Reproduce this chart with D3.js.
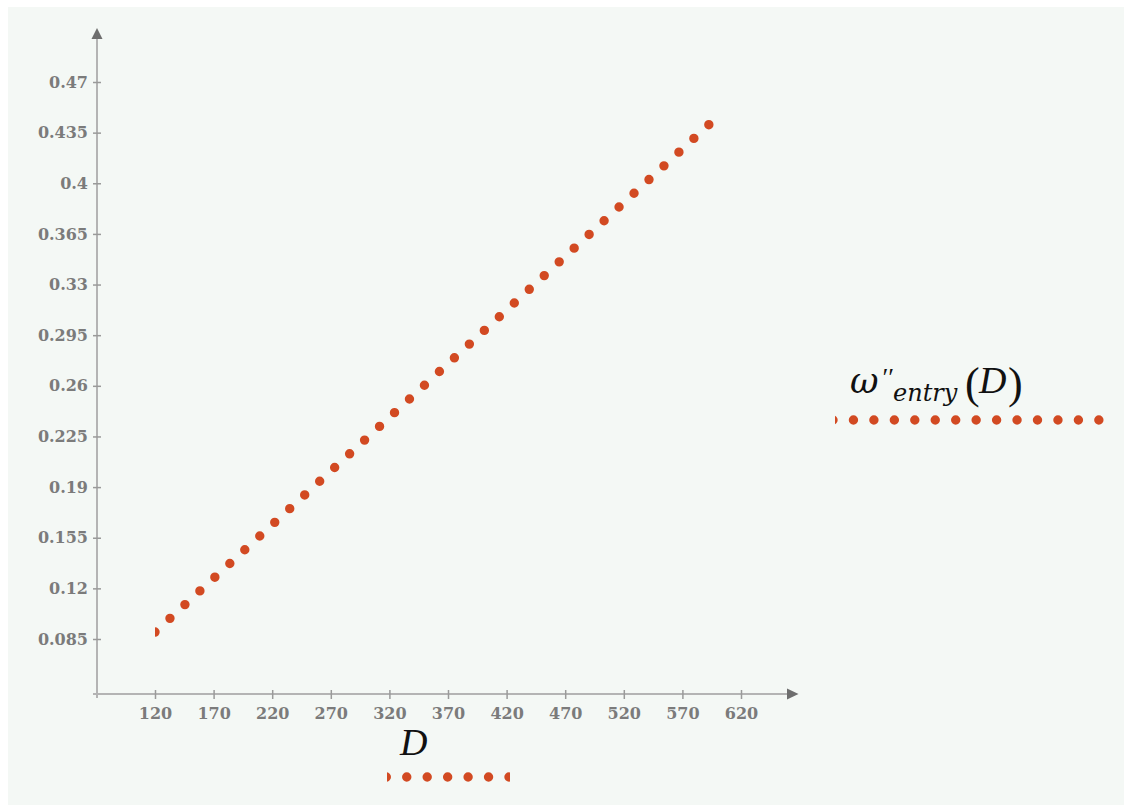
<!DOCTYPE html>
<html>
<head>
<meta charset="utf-8">
<script src="https://cdn.jsdelivr.net/npm/d3@7"></script>
<style>
    body { margin: 0; background: #ffffff; }
    svg { display: block; }
    .tick text { font-family: "DejaVu Serif", serif; font-weight: bold; font-size: 16px; fill: #7b7b7b; }
    .tick line { stroke: #9a9a9a; stroke-width: 1.5; }
</style>
</head>
<body>
<div id="chart"></div>
<script>
// values
const dValues = [120, 200, 280, 360, 440, 520, 595];
const omegaValues = [0.0898, 0.1492, 0.2085, 0.2679, 0.3272, 0.3866, 0.4423];

const xTicks = [120, 170, 220, 270, 320, 370, 420, 470, 520, 570, 620];
const yTicks = [0.085, 0.12, 0.155, 0.19, 0.225, 0.26, 0.295, 0.33, 0.365, 0.4, 0.435, 0.47];
const yTickLabels = ['0.085', '0.12', '0.155', '0.19', '0.225', '0.26', '0.295', '0.33', '0.365', '0.4', '0.435', '0.47'];

const W = 1131, H = 812;
const dotColor = '#d24a22';
const axisColor = '#b4b4b4';
const arrowColor = '#6e6e6e';

const svg = d3.select('#chart').append('svg')
    .attr('width', W)
    .attr('height', H);

// panel background
svg.append('rect')
    .attr('x', 8).attr('y', 7)
    .attr('width', 1116).attr('height', 798)
    .attr('fill', '#f4f8f5');

const x = d3.scaleLinear().domain([120, 620]).range([155, 741]);
const y = d3.scaleLinear().domain([0.085, 0.47]).range([639, 82]);

const originX = 97, originY = 694;

// axis lines with arrows
svg.append('line')
    .attr('x1', 93).attr('x2', 790)
    .attr('y1', originY).attr('y2', originY)
    .attr('stroke', axisColor).attr('stroke-width', 2);
svg.append('line')
    .attr('x1', originX).attr('x2', originX)
    .attr('y1', 36).attr('y2', 698)
    .attr('stroke', axisColor).attr('stroke-width', 2);

svg.append('path')
    .attr('d', `M${originX - 5.5},39 L${originX},28 L${originX + 5.5},39 Z`)
    .attr('fill', arrowColor);
svg.append('path')
    .attr('d', `M787,${originY - 5.5} L798.5,${originY} L787,${originY + 5.5} Z`)
    .attr('fill', arrowColor);

// y axis
const yAxis = svg.append('g')
    .attr('transform', `translate(${originX},0)`)
    .call(d3.axisLeft(y)
        .tickValues(yTicks)
        .tickFormat((d, i) => yTickLabels[i])
        .tickSize(4)
        .tickPadding(5));
yAxis.select('.domain').remove();
yAxis.selectAll('.tick line').attr('x1', 4).attr('x2', -4);
yAxis.selectAll('.tick text').attr('font-family', null).attr('font-size', null);

// x axis
const xAxis = svg.append('g')
    .attr('transform', `translate(0,${originY})`)
    .call(d3.axisBottom(x)
        .tickValues(xTicks)
        .tickFormat(d3.format('d'))
        .tickSize(4)
        .tickPadding(10));
xAxis.select('.domain').remove();
xAxis.selectAll('.tick line').attr('y1', -4).attr('y2', 5);
xAxis.selectAll('.tick text').attr('font-family', null).attr('font-size', null);

// dotted trace
const defs = svg.append('defs');
defs.append('clipPath').attr('id', 'clip-trace')
    .append('rect')
    .attr('x', x(dValues[0])).attr('y', 0)
    .attr('width', 700).attr('height', H);

const line = d3.line()
    .x((d, i) => x(d))
    .y((d, i) => y(omegaValues[i]));

svg.append('path')
    .datum(dValues)
    .attr('clip-path', 'url(#clip-trace)')
    .attr('d', line)
    .attr('fill', 'none')
    .attr('stroke', dotColor)
    .attr('stroke-width', 9.4)
    .attr('stroke-linecap', 'round')
    .attr('stroke-dasharray', '0 20.3');

// legend samples
function dottedSample(id, x0, x1, clipX0, clipX1, yy) {
    defs.append('clipPath').attr('id', id)
        .append('rect')
        .attr('x', clipX0).attr('y', yy - 10)
        .attr('width', clipX1 - clipX0).attr('height', 20);
    svg.append('line')
        .attr('clip-path', `url(#${id})`)
        .attr('x1', x0).attr('x2', x1)
        .attr('y1', yy).attr('y2', yy)
        .attr('stroke', dotColor)
        .attr('stroke-width', 9.4)
        .attr('stroke-linecap', 'round')
        .attr('stroke-dasharray', '0 20.45');
}

dottedSample('clip-d', 386.3, 509.5, 387, 510, 777);
dottedSample('clip-w', 833, 1104, 835, 1104, 420);

// x legend label
svg.append('text')
    .attr('x', 400).attr('y', 755)
    .attr('font-family', '"Liberation Serif", serif')
    .attr('font-style', 'italic')
    .attr('font-size', 38)
    .attr('fill', '#111')
    .text('D');

// y legend label
const wl = svg.append('text')
    .attr('fill', '#111');
wl.append('tspan')
    .attr('x', 850).attr('y', 393)
    .attr('font-family', '"DejaVu Serif", serif')
    .attr('font-style', 'italic').attr('font-size', 35)
    .text('ω');
wl.append('tspan')
    .attr('x', 881).attr('y', 386)
    .attr('font-family', '"Liberation Serif", serif')
    .attr('font-style', 'italic').attr('font-size', 26)
    .text('′′');
wl.append('tspan')
    .attr('x', 893).attr('y', 401)
    .attr('font-family', '"DejaVu Serif", serif')
    .attr('font-style', 'italic').attr('font-size', 24)
    .text('entry');
wl.append('tspan')
    .attr('x', 965).attr('y', 398)
    .attr('font-family', '"Liberation Serif", serif')
    .attr('font-size', 44)
    .text('(');
wl.append('tspan')
    .attr('x', 979).attr('y', 393)
    .attr('font-family', '"Liberation Serif", serif')
    .attr('font-style', 'italic').attr('font-size', 38)
    .text('D');
wl.append('tspan')
    .attr('x', 1008).attr('y', 398)
    .attr('font-family', '"Liberation Serif", serif')
    .attr('font-size', 44)
    .text(')');
</script>
</body>
</html>
